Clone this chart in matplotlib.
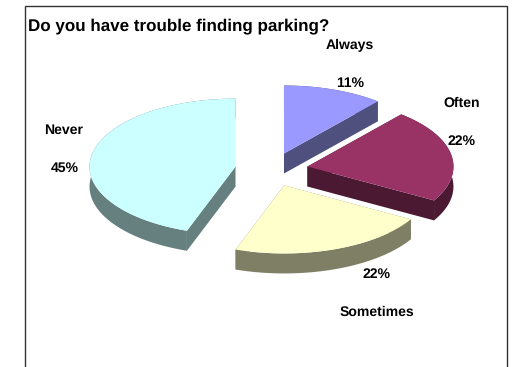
import numpy as np
import matplotlib
matplotlib.use("Agg")
import matplotlib.pyplot as plt
from matplotlib.patches import Polygon

plt.rcParams["font.family"] = ["Liberation Sans", "DejaVu Sans"]
plt.rcParams["text.hinting"] = "none"
plt.rcParams["text.hinting_factor"] = 1

# Survey shares, in percent, clockwise from twelve o'clock
categories = ["Always", "Often", "Sometimes", "Never"]
shares = [11.1, 22.2, 22.1, 44.6]
top_colors = ["#9999FF", "#993366", "#FFFFCC", "#CCFFFF"]
side_colors = ["#50507F", "#4C1933", "#7F7F66", "#668080"]

title = "Do you have trouble finding parking?"
# Label anchors: horizontal centre and text baseline, in pixels
name_positions = [(350, 49), (462, 107), (377, 316), (64, 134)]
percent_positions = [(350, 87), (462, 144.5), (377, 278), (65, 172)]

# Pie geometry in pixel units: centre, tilted radii, extrusion and explosion
CX, CY = 271.5, 169.5
RX, RY = 146.0, 68.0
DEPTH = 20.0
EXPLODE = 0.25

fig = plt.figure(figsize=(5.12, 3.67), dpi=100, facecolor="white")
ax = fig.add_axes([0, 0, 1, 1])
ax.set_xlim(0, 512)
ax.set_ylim(367, 0)
ax.axis("off")


def rim(theta, apex):
    """Points on the tilted circle; theta runs clockwise from the top."""
    return np.column_stack([apex[0] + RX * np.sin(theta),
                            apex[1] - RY * np.cos(theta)])


edges = np.radians(np.concatenate([[0], np.cumsum(shares)]) * 3.6)

for i in range(len(shares)):
    start, stop = edges[i], edges[i + 1]
    mid = (start + stop) / 2
    apex = np.array([CX + EXPLODE * RX * np.sin(mid),
                     CY - EXPLODE * RY * np.cos(mid)])
    arc = rim(np.linspace(start, stop, 160), apex)
    drop = np.array([0, DEPTH])

    # Radial walls and the outer wall sit beneath the top face
    for end in (arc[0], arc[-1]):
        wall = [apex, end, end + drop, apex + drop]
        ax.add_patch(Polygon(wall, closed=True, fc=side_colors[i], ec="none"))
    outer = np.vstack([arc, (arc + drop)[::-1]])
    ax.add_patch(Polygon(outer, closed=True, fc=side_colors[i], ec="none"))

    top = np.vstack([apex, arc])
    ax.add_patch(Polygon(top, closed=True, fc=top_colors[i], ec="none"))

# Chart area border: left, top and right edges run off the bottom of the figure
ax.plot([25, 25, 506.5, 506.5], [367, 6, 6, 367], color="#333333", lw=1.0,
        solid_joinstyle="miter", clip_on=False)

ax.text(28, 30, title, fontsize=11.9, fontweight="bold", color="black",
        ha="left", va="baseline")

for name, share, (nx, ny), (px, py) in zip(categories, shares,
                                           name_positions, percent_positions):
    ax.text(nx, ny, name, fontsize=9.9, fontweight="bold", ha="center", va="baseline")
    ax.text(px, py, f"{share:.0f}%", fontsize=9.9, fontweight="bold",
            ha="center", va="baseline")

fig.savefig("out.png", dpi=100)
